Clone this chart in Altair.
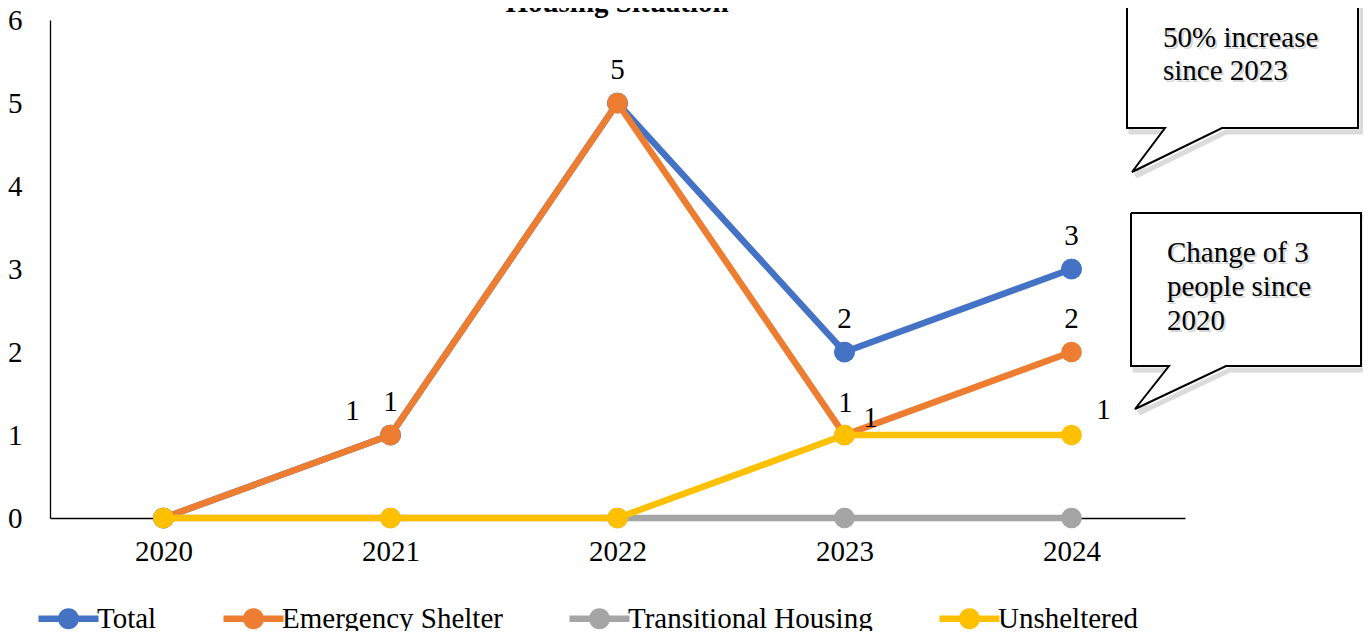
import altair as alt
import pandas as pd

# ---------------- data ----------------
years = ["2020", "2021", "2022", "2023", "2024"]
series_names = ["Total", "Emergency Shelter", "Transitional Housing", "Unsheltered"]
total = [0, 1, 5, 2, 3]
emergency_shelter = [0, 1, 5, 1, 2]
transitional_housing = [0, 0, 0, 0, 0]
unsheltered = [0, 0, 0, 1, 1]
y_ticks = [0, 1, 2, 3, 4, 5, 6]

title_text = "Housing Situation"
callout1_text = ["50% increase", "since 2023"]
callout2_text = ["Change of 3", "people since", "2020"]

# which points carry a data label (series, year)
label_points = [
    ("Total", "2021"),
    ("Emergency Shelter", "2021"),
    ("Total", "2022"),
    ("Total", "2023"),
    ("Emergency Shelter", "2023"),
    ("Unsheltered", "2023"),
    ("Total", "2024"),
    ("Emergency Shelter", "2024"),
    ("Unsheltered", "2024"),
]

# ---------------- styling / layout (not data) ----------------
colors = ["#4472C4", "#ED7D31", "#A5A5A5", "#FFC000"]
label_offsets = [(0, -33), (-38, -24), (0, -33), (0, -33), (26, -17),
                 (1, -32), (0, -33), (0, -33), (32, -25)]
FONT = "Liberation Serif"
FS = 29
W, H = 1135, 498

# speech-bubble outlines in plot pixels (annotation geometry)
callout1_px = [1077, 1308, 1308, 1172, 1082, 1115, 1077, 1077]
callout1_py = [-30, -30, 108, 108, 152, 108, 108, -30]
callout2_px = [1081, 1311, 1311, 1176, 1085, 1119, 1081, 1081]
callout2_py = [193, 193, 346, 346, 389, 346, 346, 193]

rows = []
for name, vals in zip(series_names, [total, emergency_shelter, transitional_housing, unsheltered]):
    for yr, v in zip(years, vals):
        rows.append({"series": name, "year": yr, "value": v})
df = pd.DataFrame(rows)

crow = []
for k, (pxs, pys) in enumerate([(callout1_px, callout1_py), (callout2_px, callout2_py)]):
    for i, (a, b) in enumerate(zip(pxs, pys)):
        crow.append({"shape": f"c{k}", "i": i, "px": a, "py": b})
cdf = pd.DataFrame(crow)

legend_path = ("M-3,-0.32 L3,-0.32 L3,0.32 L-3,0.32 Z "
               "M-1.05,0 A1.05,1.05 0 1,1 1.05,0 A1.05,1.05 0 1,1 -1.05,0 Z")

x_enc = alt.X("year:O", sort=years, title=None,
              scale=alt.Scale(type="point", padding=0.5),
              axis=alt.Axis(labelAngle=0, ticks=False, grid=False, labelFont=FONT,
                            labelFontSize=FS, labelColor="black", domainColor="black",
                            domainWidth=1.3, labelPadding=33, labelBaseline="middle"))
y_enc = alt.Y("value:Q", title=None,
              scale=alt.Scale(domain=[0, 6], nice=False, zero=True),
              axis=alt.Axis(values=y_ticks, ticks=False, grid=False, labelFont=FONT,
                            labelFontSize=FS, labelColor="black", domainColor="black",
                            domainWidth=1.3, labelPadding=28, format="d"))
color_enc = alt.Color("series:N",
                      scale=alt.Scale(domain=series_names, range=colors),
                      legend=alt.Legend(title=None, orient="none", legendX=4, legendY=584,
                                        direction="horizontal", columns=4,
                                        symbolType=legend_path, symbolSize=400,
                                        symbolStrokeWidth=0, symbolOpacity=1,
                                        labelFont=FONT,
                                        labelFontSize=FS, labelColor="black",
                                        labelOffset=14, columnPadding=66, padding=0,
                                        labelLimit=0))

base = alt.Chart(df)
layers = []
# first layer: filled markers of "Total" (hidden beneath everything else) -> filled legend symbols
layers.append(base.transform_filter(alt.datum.series == "Total")
              .mark_circle(size=430, opacity=1)
              .encode(x=x_enc, y=y_enc, color=color_enc))
for s in series_names:
    layers.append(base.transform_filter(alt.datum.series == s)
                  .mark_line(strokeWidth=6.5)
                  .encode(x=x_enc, y=y_enc, color=color_enc))
    layers.append(base.transform_filter(alt.datum.series == s)
                  .mark_circle(size=430, opacity=1)
                  .encode(x=x_enc, y=y_enc, color=color_enc))
for (s, yr), (dx, dy) in zip(label_points, label_offsets):
    layers.append(base.transform_filter((alt.datum.series == s) & (alt.datum.year == yr))
                  .mark_text(dx=dx, dy=dy, font=FONT, fontSize=FS, color="black",
                             baseline="middle")
                  .encode(x=x_enc, y=y_enc, text=alt.Text("value:Q", format="d")))

main = alt.layer(*layers)

cx = alt.X("px:Q", scale=None, axis=None)
cy = alt.Y("py:Q", scale=None, axis=None)
cshadow = (alt.Chart(cdf)
           .transform_calculate(px="datum.px + 4", py="datum.py + 4")
           .mark_line(stroke="#999999", strokeWidth=5, opacity=0.35, strokeJoin="miter")
           .encode(x=cx, y=cy, detail="shape:N", order="i:Q"))
cshape = (alt.Chart(cdf)
          .mark_line(fill="white", stroke="black", strokeWidth=2, strokeJoin="miter")
          .encode(x=cx, y=cy, detail="shape:N", order="i:Q"))

one = pd.DataFrame({"k": [0]})
text_layers = []
for txt, tx, ty, lh in [(callout1_text, 1113, 27, 33), (callout2_text, 1117, 242, 34)]:
    text_layers.append(alt.Chart(one).mark_text(align="left", baseline="alphabetic", font=FONT,
                                                fontSize=FS, lineHeight=lh, color="#888888",
                                                opacity=0.35)
                       .encode(x=alt.value(tx + 2), y=alt.value(ty + 2), text=alt.value(txt)))
    text_layers.append(alt.Chart(one).mark_text(align="left", baseline="alphabetic", font=FONT,
                                                fontSize=FS, lineHeight=lh, color="black")
                       .encode(x=alt.value(tx), y=alt.value(ty), text=alt.value(txt)))

title = (alt.Chart(one).mark_text(font=FONT, fontSize=29, fontWeight="bold", color="black",
                                  baseline="alphabetic", align="center")
         .encode(x=alt.value(567), y=alt.value(-8), text=alt.value(title_text)))

chart = (alt.layer(main, cshadow, cshape, *text_layers, title)
         .resolve_scale(x="independent", y="independent")
         .properties(width=W, height=H, background="white",
                     autosize=alt.AutoSizeParams(type="none"),
                     padding={"left": 42, "top": 12, "right": 178, "bottom": 113})
         .configure_view(stroke="transparent", strokeWidth=0))

chart.save("out.html", embed_options={"renderer": "svg", "actions": False})
